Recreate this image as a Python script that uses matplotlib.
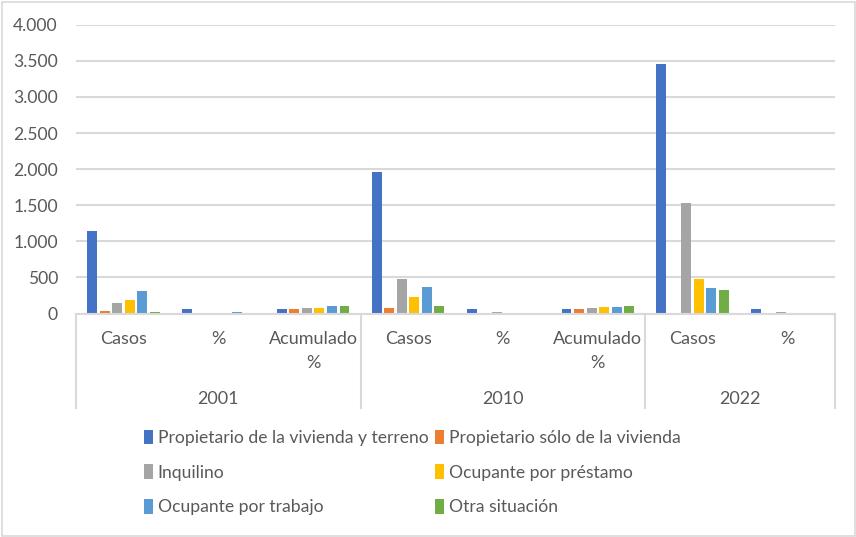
import matplotlib.pyplot as plt
import matplotlib.transforms as mtransforms
from matplotlib.patches import Rectangle, Patch
import numpy as np

plt.rcParams['font.family'] = ['Lato', 'DejaVu Sans']

sub_labels = ['Casos', '%', 'Acumulado\n%', 'Casos', '%', 'Acumulado\n%', 'Casos', '%']
years = ['2001', '2010', '2022']
year_spans = [(0, 2), (3, 5), (6, 7)]

series_names = ['Propietario de la vivienda y terreno', 'Propietario sólo de la vivienda',
                'Inquilino', 'Ocupante por préstamo', 'Ocupante por trabajo', 'Otra situación']
colors = ['#4472C4', '#ED7D31', '#A5A5A5', '#FFC000', '#5B9BD5', '#70AD47']

# values per category: 2001 Casos, %, Acum %, 2010 Casos, %, Acum %, 2022 Casos, %
propietario_total = [1143, 62.0, 62.0, 1960, 61.0, 61.0, 3456, 56.3]
propietario_vivienda = [35, 1.9, 64.0, 76, 2.4, 63.4, 0, 0.0]
inquilino = [145, 7.9, 72.0, 478, 14.9, 78.3, 1530, 24.9]
prestamo = [187, 10.2, 82.0, 228, 7.1, 85.4, 478, 7.8]
trabajo = [312, 16.9, 99.0, 367, 11.4, 96.8, 353, 5.7]
otra = [20, 1.1, 100.0, 104, 3.2, 100.0, 324, 5.3]
series = [propietario_total, propietario_vivienda, inquilino, prestamo, trabajo, otra]

W, H = 856, 537
fig = plt.figure(figsize=(W / 100, H / 100), dpi=100)
ax = fig.add_axes([76 / W, 1 - 313.5 / H, (835 - 76) / W, (313.5 - 24.7) / H])

x = np.arange(len(sub_labels))
step = 0.132
width = 0.105
for i, (vals, c) in enumerate(zip(series, colors)):
    ax.bar(x + (i - 2.5) * step, vals, width=width, color=c, zorder=2)

ax.set_xlim(-0.5, len(sub_labels) - 0.5)
ax.set_ylim(0, 4000)
ax.set_yticks(np.arange(0, 4001, 500))
ax.set_yticklabels([f'{v:,}'.replace(',', '.') for v in range(0, 4001, 500)])
ax.tick_params(axis='y', length=0, pad=13, labelsize=12.6, labelcolor='#595959')
ax.tick_params(axis='x', length=0, labelbottom=False)
ax.grid(axis='y', color='#D9D9D9', linewidth=1.5, zorder=0)
for s in ['top', 'right', 'left']:
    ax.spines[s].set_visible(False)
ax.spines['bottom'].set_color('#D9D9D9')
ax.spines['bottom'].set_linewidth(1.5)
ax.spines['bottom'].set_zorder(3)

# multi-level category axis
tr = mtransforms.blended_transform_factory(ax.transData, fig.transFigure)
for xi, lab in zip(x, sub_labels):
    ax.text(xi, 1 - 331 / H, lab, transform=tr, ha='center', va='top',
            fontsize=13, color='#595959', linespacing=1.6)
for yr, (a, b) in zip(years, year_spans):
    ax.text((a + b) / 2, 1 - 398.5 / H, yr, transform=tr, ha='center', va='center',
            fontsize=13, color='#595959')
for xs in [-0.5, 2.5, 5.5, 7.5]:
    ax.plot([xs, xs], [1 - 313.5 / H, 1 - 408 / H], transform=tr, color='#D9D9D9',
            linewidth=1.5, clip_on=False)

# Excel fills the legend row by row
order = [0, 2, 4, 1, 3, 5]
handles = [Patch(facecolor=colors[i]) for i in order]
labels = [series_names[i] for i in order]
fig.legend(handles, labels, ncol=2, loc='upper left', bbox_to_anchor=(128 / W, 1 - 414 / H),
           frameon=False, fontsize=12.6, labelcolor='#595959', handlelength=0.55, handleheight=0.9,
           handletextpad=0.25, columnspacing=0.35, labelspacing=1.05)

fig.patches.append(Rectangle((1.5 / W, 1.5 / H), (W - 3) / W, (H - 3) / H, transform=fig.transFigure,
                             fill=False, edgecolor='#D9D9D9', linewidth=1.2))

fig.savefig('out.png', dpi=100)
